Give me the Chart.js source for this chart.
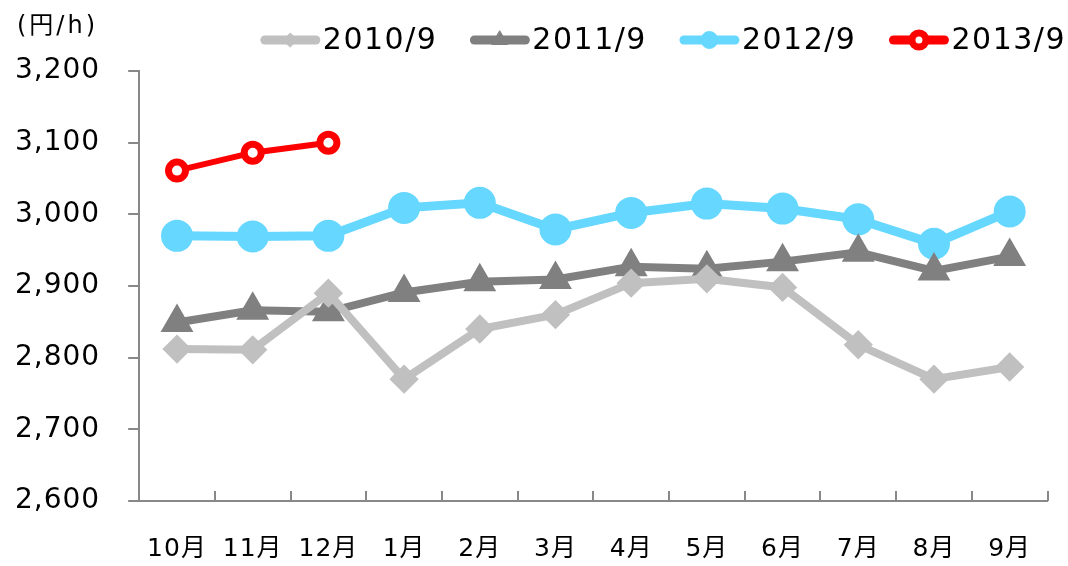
<!DOCTYPE html>
<html>
<head>
<meta charset="utf-8">
<script src="https://cdn.jsdelivr.net/npm/chart.js@4"></script>
<style>
  body { margin: 0; background: #fff; }
</style>
</head>
<body>
<canvas id="chart" width="1068" height="566"></canvas>
<script>
var months = ["10月", "11月", "12月", "1月", "2月", "3月", "4月", "5月", "6月", "7月", "8月", "9月"];
var s2010 = [2812, 2811, 2890, 2770, 2840, 2860, 2904, 2910, 2898, 2818, 2770, 2787];
var s2011 = [2849, 2866, 2864, 2891, 2906, 2909, 2927, 2924, 2934, 2947, 2921, 2941];
var s2012 = [2970, 2969, 2970, 3009, 3016, 2979, 3002, 3015, 3008, 2993, 2959, 3004];
var s2013 = [3061, 3086, 3100];
var seriesNames = ["2010/9", "2011/9", "2012/9", "2013/9"];
var unitLabel = "(円/h)";

var FONT = "'DejaVu Sans', 'Noto Sans CJK JP', sans-serif";
Chart.defaults.font.family = FONT;
Chart.defaults.color = "#000";

// inward category ticks, unit text, legend with line + marker
var extras = {
	id: "extras",
	beforeInit: function(chart)
	{
		chart.ctx.letterSpacing = "1px";
	},
	beforeLayout: function(chart)
	{
		chart.ctx.letterSpacing = "1px";
	},
	beforeDraw: function(chart)
	{
		chart.ctx.letterSpacing = "1px";
	},
	afterDraw: function(chart)
	{
		var ctx = chart.ctx;
		var x = chart.scales.x;
		var area = chart.chartArea;
		ctx.save();
		ctx.strokeStyle = "#888";
		ctx.lineWidth = 2;
		var half = (x.getPixelForValue(1) - x.getPixelForValue(0)) / 2;
		for (var i = 1; i <= months.length; i++)
		{
			var px = Math.round(x.getPixelForValue(i) - half);
			ctx.beginPath();
			ctx.moveTo(px, area.bottom);
			ctx.lineTo(px, area.bottom - 10);
			ctx.stroke();
		}

		ctx.fillStyle = "#000";
		ctx.letterSpacing = "3px";
		ctx.font = "24px " + FONT;
		ctx.textBaseline = "middle";
		ctx.textAlign = "left";
		ctx.fillText(unitLabel, 17, 27);

		// legend, right aligned
		ctx.font = "30px " + FONT;
		ctx.letterSpacing = "1.5px";
		var sets = chart.data.datasets;
		var lineW = 59, gapText = 3, gapItem = 33, cy = 40;
		var widths = sets.map(function(ds) { return lineW + gapText + ctx.measureText(ds.label).width; });
		var total = widths.reduce(function(a, b) { return a + b; }, 0) + gapItem * (sets.length - 1);
		var lx = 1066 - total;
		for (var j = 0; j < sets.length; j++)
		{
			var ds = sets[j];
			ctx.strokeStyle = ds.borderColor;
			ctx.lineWidth = 9;
			ctx.lineCap = "round";
			ctx.beginPath();
			ctx.moveTo(lx + 4, cy);
			ctx.lineTo(lx + lineW - 4, cy);
			ctx.stroke();
			ctx.fillStyle = ds.pointBackgroundColor;
			ctx.strokeStyle = ds.pointBorderColor;
			ctx.lineWidth = ds.pointBorderWidth || 1;
			Chart.helpers.drawPoint(ctx, {
				pointStyle: ds.pointStyle,
				radius: ds.legendRadius,
				borderWidth: ds.pointBorderWidth || 1
			}, lx + lineW / 2, cy);
			ctx.fillStyle = "#000";
			ctx.fillText(ds.label, lx + lineW + gapText, cy + 1);
			lx += widths[j] + gapItem;
		}
		ctx.restore();
	}
};

window.onload = () =>
{
	var ctx = document.getElementById("chart").getContext("2d");
	var chartConfig =
	{
		type: "line",
		data:
		{
			labels: months,
			datasets: [
				{
					label: seriesNames[0], data: s2010,
					borderColor: "#c0c0c0", backgroundColor: "#c0c0c0",
					borderWidth: 8, pointStyle: "rectRot", pointRadius: 9,
					pointBackgroundColor: "#c0c0c0", pointBorderColor: "#c0c0c0",
					legendRadius: 7
				},
				{
					label: seriesNames[1], data: s2011,
					borderColor: "#808080", backgroundColor: "#808080",
					borderWidth: 8, pointStyle: "triangle", pointRadius: 11,
					pointBackgroundColor: "#808080", pointBorderColor: "#808080",
					legendRadius: 9
				},
				{
					label: seriesNames[2], data: s2012,
					borderColor: "#66d7ff", backgroundColor: "#66d7ff",
					borderWidth: 9, pointStyle: "circle", pointRadius: 11.5,
					pointBackgroundColor: "#66d7ff", pointBorderColor: "#66d7ff",
					legendRadius: 8.5
				},
				{
					label: seriesNames[3], data: s2013,
					borderColor: "#ff0000", backgroundColor: "#ff0000",
					borderWidth: 6, pointStyle: "circle", pointRadius: 8.5,
					pointBorderWidth: 7,
					pointBackgroundColor: "#ffffff", pointBorderColor: "#ff0000",
					legendRadius: 7
				}
			]
		},
		options:
		{
			responsive: false,
			animation: false,
			layout: { padding: { left: -13, right: 6, top: 71, bottom: -31 } },
			plugins:
			{
				legend: { display: false },
				tooltip: { enabled: false }
			},
			scales:
			{
				x:
				{
					offset: true,
					grid: { display: false, drawTicks: false, tickLength: 0 },
					border: { color: "#888", width: 2 },
					ticks: { font: { size: 25 }, padding: 33, color: "#000", maxRotation: 0 },
					afterFit: function(scale)
					{
						scale.paddingLeft = 0;
						scale.paddingRight = 0;
					}
				},
				y:
				{
					min: 2600,
					max: 3200,
					grid: { drawOnChartArea: false, tickLength: 11, color: "#888", lineWidth: 2 },
					border: { color: "#888", width: 2 },
					ticks:
					{
						stepSize: 100,
						font: { size: 28 },
						padding: 28,
						color: "#000",
						callback: function(v) { return v.toLocaleString("en-US"); }
					}
				}
			}
		},
		plugins: [extras]
	};
	var chart = new Chart(ctx, chartConfig);
};
</script>
</body>
</html>
